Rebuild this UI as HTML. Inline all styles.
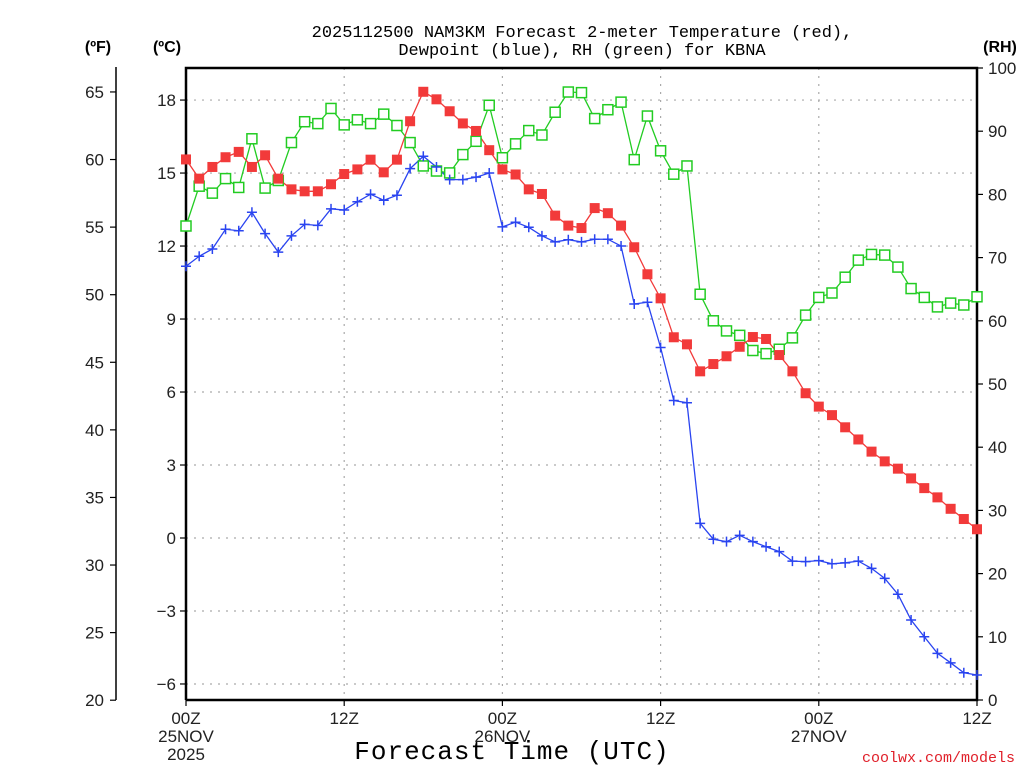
<!DOCTYPE html>
<html><head><meta charset="utf-8"><style>
body{margin:0;background:#fff;width:1024px;height:768px;overflow:hidden}
svg{display:block;font-family:"Liberation Sans",sans-serif}
</style></head><body>
<svg id="chart" width="1024" height="768" viewBox="0 0 1024 768" xmlns="http://www.w3.org/2000/svg">
<text x="582" y="37" font-size="17" text-anchor="middle" font-family="Liberation Mono, monospace">2025112500 NAM3KM Forecast 2-meter Temperature (red),</text>
<text x="582" y="55" font-size="17" text-anchor="middle" font-family="Liberation Mono, monospace">Dewpoint (blue), RH (green) for KBNA</text>
<text x="98" y="52" font-size="16" font-weight="bold" text-anchor="middle">(ºF)</text>
<text x="167" y="52" font-size="16" font-weight="bold" text-anchor="middle">(ºC)</text>
<text x="1000" y="52" font-size="16" font-weight="bold" text-anchor="middle">(RH)</text>
<text x="512" y="759" font-size="26" text-anchor="middle" font-family="Liberation Mono, monospace" letter-spacing="1">Forecast Time (UTC)</text>
<text x="1015" y="762" font-size="15" fill="#e0202a" text-anchor="end" font-family="Liberation Mono, monospace">coolwx.com/models</text>
<g id="grid"></g><g id="axes"></g><g id="series"></g>
</svg>
<script>
const timeLabels = ["00Z","12Z","00Z","12Z","00Z","12Z"];
const dateLabels = ["25NOV\n2025","","26NOV","","27NOV",""];
const celsiusTicks = [-6,-3,0,3,6,9,12,15,18];
const fahrenheitTicks = [20,25,30,35,40,45,50,55,60,65];
const rhTicks = [0,10,20,30,40,50,60,70,80,90,100];
const temperatureC = [15.56,14.77,15.25,15.65,15.87,15.25,15.73,14.77,14.33,14.25,14.25,14.54,14.96,15.15,15.55,15.03,15.55,17.13,18.34,18.03,17.54,17.04,16.73,15.94,15.15,14.94,14.33,14.14,13.25,12.84,12.74,13.56,13.35,12.84,11.95,10.84,9.85,8.25,7.96,6.85,7.15,7.47,7.86,8.26,8.18,7.52,6.85,5.95,5.4,5.05,4.55,4.05,3.55,3.15,2.85,2.45,2.05,1.67,1.2,0.78,0.36];
const dewpointC = [11.17,11.58,11.88,12.69,12.63,13.39,12.51,11.75,12.42,12.89,12.85,13.53,13.48,13.82,14.13,13.88,14.09,15.18,15.69,15.25,14.73,14.73,14.83,15.0,12.79,12.98,12.77,12.42,12.17,12.26,12.17,12.28,12.28,12.0,9.62,9.69,7.83,5.65,5.56,0.6,-0.05,-0.15,0.11,-0.15,-0.36,-0.56,-0.95,-0.97,-0.93,-1.06,-1.02,-0.95,-1.25,-1.66,-2.31,-3.37,-4.06,-4.74,-5.13,-5.54,-5.63];
const relHumidity = [75.0,81.3,80.2,82.5,81.1,88.8,81.0,82.2,88.2,91.5,91.2,93.6,91.0,91.8,91.2,92.7,90.9,88.2,84.5,83.7,83.4,86.3,88.4,94.1,85.8,88.0,90.1,89.4,93.0,96.2,96.1,92.0,93.4,94.6,85.5,92.4,86.9,83.2,84.5,64.2,60.0,58.4,57.7,55.3,54.8,55.5,57.3,60.9,63.7,64.4,66.9,69.6,70.5,70.4,68.5,65.1,63.7,62.2,62.8,62.5,63.8];

const NS="http://www.w3.org/2000/svg";
const L=186,R=977,T=68,B=700,HOURS=60;
const xS=h=>L+(R-L)*h/HOURS;
const yC=c=>538-c*24.33;
const yF=f=>yC((f-32)*5/9);
const yRH=r=>B-(B-T)*r/100;
function mk(tag,attrs,parent){const e=document.createElementNS(NS,tag);for(const k in attrs)e.setAttribute(k,attrs[k]);parent.appendChild(e);return e;}
const grid=document.getElementById('grid'),axes=document.getElementById('axes'),series=document.getElementById('series');

celsiusTicks.forEach(c=>{
  const g=mk('line',{x1:L,x2:R,y1:yC(c),y2:yC(c),stroke:'#aaa','stroke-width':1.2,'stroke-dasharray':'2 6'},grid);
  
  
  const t=mk('line',{x1:L-6,x2:L,y1:yC(c),y2:yC(c),stroke:'#000','stroke-width':1.2},axes);
  
  
  const tx=mk('text',{x:L-10,y:yC(c)+6,'font-size':17,'text-anchor':'end',fill:'#222'},axes);
  tx.textContent=c<0?'\u2212'+(-c):String(c);
  
  
});
timeLabels.forEach((lab,i)=>{
  const x=xS(i*12);
  if(i>0&&i<5){const g=mk('line',{x1:x,x2:x,y1:T,y2:B,stroke:'#aaa','stroke-width':1.2,'stroke-dasharray':'2 6'},grid);
  
  }
  const t=mk('line',{x1:x,x2:x,y1:B,y2:B+6,stroke:'#000','stroke-width':1.2},axes);
  
  
  const tx=mk('text',{x:x,y:B+24,'font-size':17,'text-anchor':'middle',fill:'#222'},axes);
  tx.textContent=lab;
  
  
  dateLabels[i].split('\n').forEach((s,j)=>{if(!s)return;
    const d=mk('text',{x:x,y:B+42+j*18,'font-size':17,'text-anchor':'middle',fill:'#222'},axes);
    d.textContent=s;
    
    });
});
fahrenheitTicks.forEach(f=>{
  const t=mk('line',{x1:110,x2:116,y1:yF(f),y2:yF(f),stroke:'#000','stroke-width':1.2},axes);
  
  
  const tx=mk('text',{x:104,y:yF(f)+6,'font-size':17,'text-anchor':'end',fill:'#222'},axes);
  tx.textContent=String(f);
  
  
});
rhTicks.forEach(r=>{
  const t=mk('line',{x1:R,x2:R+6,y1:yRH(r),y2:yRH(r),stroke:'#000','stroke-width':1.2},axes);
  
  
  const tx=mk('text',{x:R+11,y:yRH(r)+6,'font-size':17,'text-anchor':'start',fill:'#222'},axes);
  tx.textContent=String(r);
  
  
});
const fa=mk('line',{x1:116,x2:116,y1:T-1,y2:B,stroke:'#000','stroke-width':1.5},axes);


const fr=mk('path',{d:`M${L} ${B}V${T}H${R}V${B}H${L}`,fill:'none',stroke:'#000','stroke-width':2.5},axes);



function line(vals,yf,color,name){
  const p=mk('polyline',{points:vals.map((v,i)=>xS(i)+','+yf(v)).join(' '),fill:'none',stroke:color,'stroke-width':1.3},series);
  
  
}
line(relHumidity,yRH,'#22cc22','rh');
line(temperatureC,yC,'#f23a3a','temperature');
line(dewpointC,yC,'#2a44f0','dewpoint');
relHumidity.forEach((v,i)=>{
  const m=mk('rect',{x:xS(i)-5,y:yRH(v)-5,width:10,height:10,fill:'#fff',stroke:'#22cc22','stroke-width':1.5},series);
  
  
});
temperatureC.forEach((v,i)=>{
  const m=mk('rect',{x:xS(i)-5,y:yC(v)-5,width:10,height:10,fill:'#f23a3a'},series);
  
  
});
dewpointC.forEach((v,i)=>{
  const x=xS(i),y=yC(v);
  const m=mk('path',{d:`M${x-5} ${y}H${x+5}M${x} ${y-5}V${y+5}`,stroke:'#2a44f0','stroke-width':1.5},series);
  
  
});
</script>
</body></html>
